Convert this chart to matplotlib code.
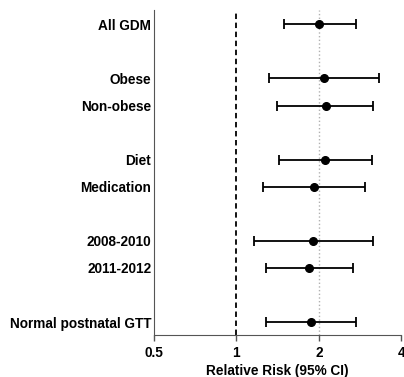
import matplotlib
matplotlib.use("Agg")
import matplotlib.pyplot as plt
import numpy as np

# data
labels = ["All GDM", "Obese", "Non-obese", "Diet", "Medication",
          "2008-2010", "2011-2012", "Normal postnatal GTT"]
rows = [0, 2, 3, 5, 6, 8, 9, 11]
rr = [2.01, 2.09, 2.12, 2.11, 1.92, 1.91, 1.85, 1.87]
ci_low = [1.49, 1.32, 1.41, 1.43, 1.25, 1.16, 1.28, 1.28]
ci_high = [2.73, 3.33, 3.16, 3.13, 2.96, 3.15, 2.67, 2.73]
xticks = [0.5, 1, 2, 4]

plt.rcParams['font.family'] = ['Liberation Sans', 'DejaVu Sans']
plt.rcParams['font.weight'] = 'bold'

fig = plt.figure(figsize=(4.04, 3.77), dpi=100)
ax = fig.add_axes([0.381, 0.111, 0.612, 0.862])

rr = np.array(rr)
err = [rr - np.array(ci_low), np.array(ci_high) - rr]
ax.errorbar(rr, rows, xerr=err, fmt='o', color='black', ms=5.5,
            elinewidth=1.3, capsize=3.8, capthick=1.3, zorder=3)

# reference lines
ax.axvline(1, color='black', linestyle=(0, (3, 2)), linewidth=1.3, zorder=1)
ax.axvline(2, color='#b0b0b0', linestyle=':', linewidth=1.0, zorder=1)

ax.set_xscale('log')
ax.set_xlim(0.5, 4)
ax.set_xticks(xticks)
ax.set_xticklabels([str(t) for t in xticks])
ax.minorticks_off()
ax.set_ylim(11.48, -0.52)
ax.set_yticks(rows)
ax.set_yticklabels(labels)

ax.tick_params(axis='y', length=0, labelsize=9.8, pad=2)
ax.tick_params(axis='x', length=4, labelsize=9.8, width=1, color='#555555')
ax.set_xlabel("Relative Risk (95% CI)", fontsize=9.8, fontweight='bold', labelpad=3)

ax.spines['top'].set_visible(False)
ax.spines['right'].set_visible(False)
ax.spines['left'].set_color('#555555')
ax.spines['bottom'].set_color('#555555')

fig.savefig("out.png", dpi=100)
